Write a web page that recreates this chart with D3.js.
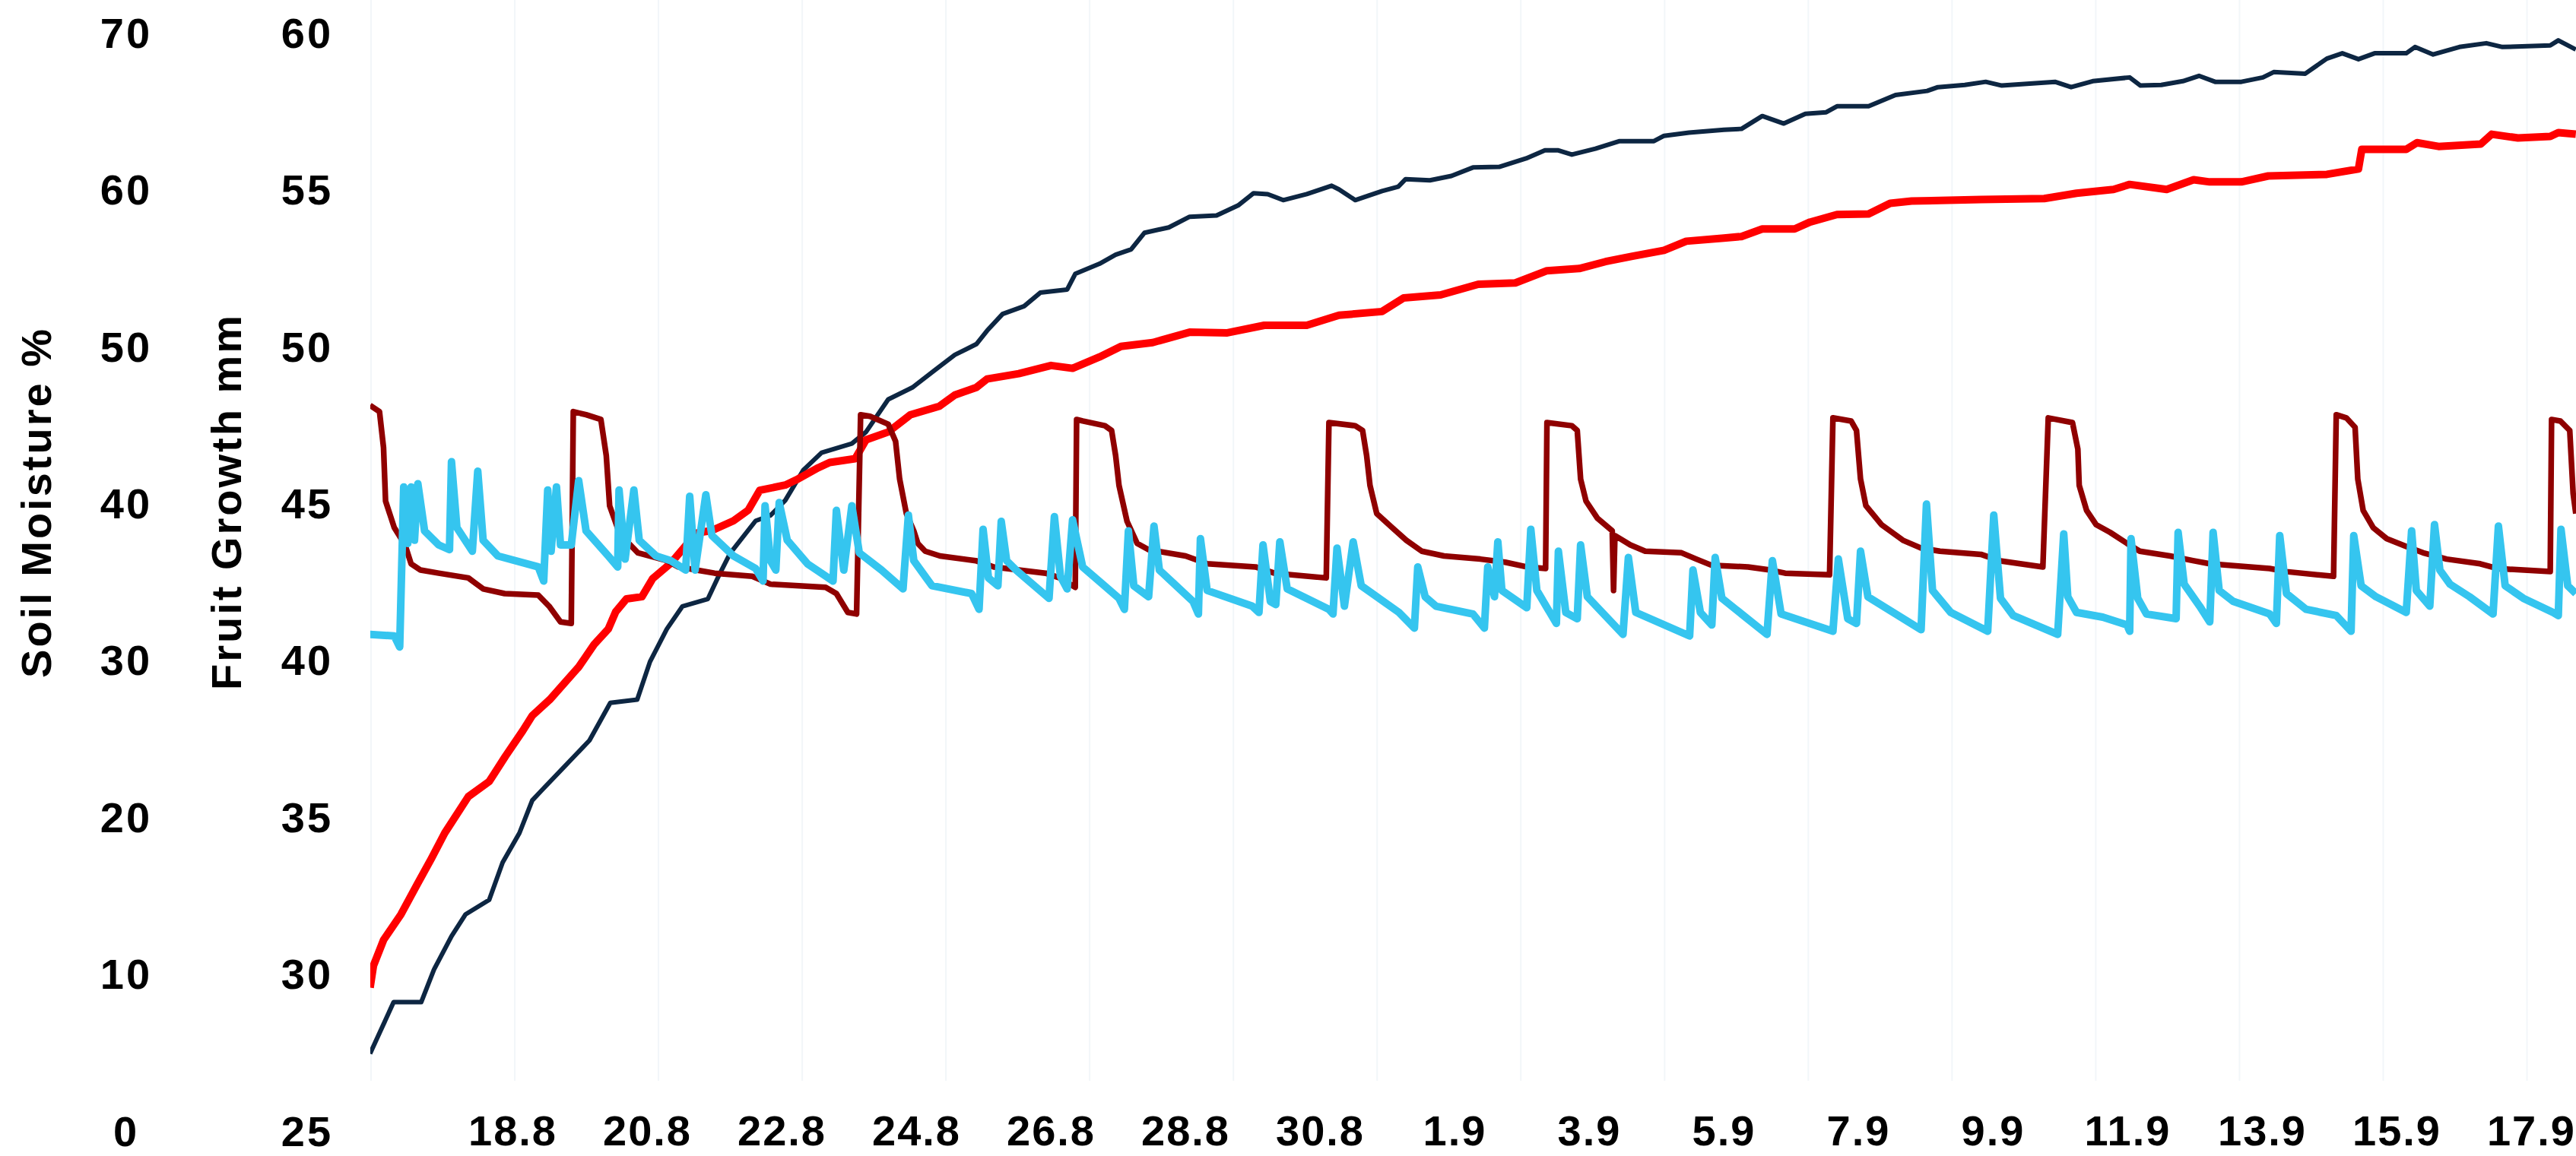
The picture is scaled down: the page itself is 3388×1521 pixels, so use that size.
<!DOCTYPE html>
<html>
<head>
<meta charset="utf-8">
<script src="https://cdn.jsdelivr.net/npm/d3@7"></script>
<style>
  html, body { margin: 0; padding: 0; background: #fff; }
  svg { display: block; }
  text {
    font-family: "Liberation Sans", Arial, sans-serif;
    font-weight: bold;
    font-size: 56px;
    letter-spacing: 3px;
    fill: #000;
  }
</style>
</head>
<body>
<svg id="chart"></svg>
<script>

// axis ticks
const soilTicks  = [0, 10, 20, 30, 40, 50, 60, 70]
const fruitTicks = [25, 30, 35, 40, 45, 50, 55, 60]
// days counted from 1 August (32 = 1 September)
const xTickDays  = [18, 20, 22, 24, 26, 28, 30, 32, 34, 36, 38, 40, 42, 44, 46, 48]
const dayRange   = [15.853, 48.633]
const gridStepDays = 2.136

// fruit growth (mm), [day, value]
const fruitNavy = [
  [15.85,27.44],[16.00,28.14],[16.20,29.08],[16.61,29.08],[16.80,30.12],[17.06,31.18],[17.27,31.88],
  [17.62,32.34],[17.82,33.53],[18.07,34.47],[18.26,35.51],[18.41,35.85],[19.11,37.42],[19.42,38.62],
  [19.82,38.72],[20.01,39.93],[20.26,40.97],[20.49,41.69],[20.87,41.93],[21.03,42.66],[21.20,43.38],
  [21.58,44.42],[21.80,44.59],[22.02,45.07],[22.29,46.04],[22.56,46.59],[23.01,46.88],[23.22,47.25],
  [23.55,48.29],[23.91,48.67],[24.23,49.20],[24.54,49.71],[24.86,50.05],[25.02,50.48],[25.25,51.01],
  [25.57,51.26],[25.81,51.69],[26.21,51.79],[26.33,52.29],[26.69,52.61],[26.93,52.90],[27.16,53.07],
  [27.36,53.60],[27.72,53.77],[28.03,54.11],[28.43,54.15],[28.75,54.47],[28.98,54.86],[29.19,54.83],
  [29.42,54.64],[29.77,54.83],[30.14,55.10],[30.25,54.98],[30.49,54.64],[30.89,54.93],[31.13,55.07],
  [31.24,55.31],[31.60,55.27],[31.92,55.41],[32.24,55.68],[32.63,55.70],[33.03,55.97],[33.31,56.23],
  [33.50,56.23],[33.71,56.09],[34.06,56.28],[34.42,56.52],[34.93,56.52],[35.08,56.69],[35.45,56.79],
  [35.97,56.88],[36.23,56.91],[36.54,57.32],[36.86,57.08],[37.18,57.39],[37.49,57.44],[37.65,57.63],
  [38.12,57.63],[38.52,57.99],[38.99,58.12],[39.15,58.24],[39.55,58.31],[39.86,58.41],[40.10,58.29],
  [40.89,58.41],[41.13,58.24],[41.45,58.43],[42.00,58.55],[42.16,58.29],[42.47,58.31],[42.79,58.43],
  [43.03,58.60],[43.27,58.41],[43.66,58.41],[43.98,58.55],[44.14,58.72],[44.61,58.67],[44.77,58.91],
  [44.93,59.15],[45.16,59.32],[45.40,59.13],[45.64,59.32],[46.11,59.32],[46.24,59.52],[46.51,59.28],
  [46.90,59.52],[47.30,59.64],[47.54,59.52],[48.25,59.57],[48.37,59.73],[48.63,59.44]
]

const fruitRed = [
  [15.85,29.54],[15.90,30.24],[16.05,31.06],[16.31,31.88],[16.55,32.83],[16.76,33.65],[16.96,34.47],
  [17.31,35.63],[17.62,36.11],[17.86,36.91],[18.12,37.73],[18.26,38.21],[18.52,38.72],[18.95,39.76],
  [19.18,40.48],[19.39,40.97],[19.50,41.52],[19.66,41.93],[19.89,42.00],[20.05,42.58],[20.32,43.07],
  [20.70,44.03],[20.93,44.11],[21.25,44.42],[21.47,44.76],[21.64,45.39],[22.02,45.56],[22.18,45.72],
  [22.51,46.11],[22.68,46.28],[23.06,46.40],[23.22,47.00],[23.55,47.25],[23.88,47.80],[24.31,48.07],
  [24.54,48.43],[24.86,48.67],[25.02,48.94],[25.49,49.11],[25.97,49.37],[26.29,49.28],[26.69,49.64],
  [27.01,49.98],[27.48,50.10],[28.03,50.43],[28.59,50.41],[29.14,50.65],[29.77,50.65],[30.25,50.97],
  [30.89,51.09],[31.21,51.52],[31.76,51.62],[32.32,51.96],[32.87,52.00],[33.34,52.39],[33.82,52.46],
  [34.21,52.68],[34.61,52.85],[35.08,53.04],[35.41,53.33],[35.97,53.43],[36.23,53.48],[36.54,53.72],
  [37.02,53.72],[37.25,53.94],[37.65,54.18],[38.12,54.20],[38.44,54.54],[38.76,54.61],[39.79,54.66],
  [40.73,54.69],[41.21,54.86],[41.76,54.98],[42.00,55.14],[42.55,54.98],[42.95,55.29],[43.19,55.22],
  [43.66,55.22],[44.06,55.41],[44.93,55.46],[45.40,55.63],[45.45,56.26],[46.11,56.26],[46.27,56.47],
  [46.59,56.35],[47.22,56.43],[47.38,56.74],[47.77,56.62],[48.25,56.67],[48.37,56.79],[48.63,56.74]
]

// soil moisture (%), [day, value]
const soilDarkRed = [
  [15.85,46.2],[15.99,45.8],[16.05,43.5],[16.08,40.1],[16.21,38.4],[16.37,37.3],[16.46,36.1],[16.60,35.7],
  [16.87,35.5],[17.31,35.2],[17.53,34.5],[17.85,34.2],[18.35,34.1],[18.51,33.4],[18.68,32.4],[18.84,32.3],
  [18.87,45.8],[19.06,45.6],[19.28,45.3],[19.36,43.0],[19.41,39.8],[19.56,38.0],[19.83,36.8],[20.26,36.3],
  [20.43,35.9],[20.70,35.7],[20.97,35.5],[21.53,35.3],[21.80,34.8],[22.62,34.6],[22.78,34.2],[22.95,33.0],
  [23.08,32.9],[23.14,45.6],[23.28,45.5],[23.55,45.0],[23.66,43.9],[23.72,41.5],[23.82,39.3],[23.93,38.2],
  [23.99,37.4],[24.10,36.9],[24.32,36.6],[24.85,36.3],[25.12,35.9],[25.89,35.5],[26.10,35.2],[26.33,34.6],
  [26.35,45.3],[26.44,45.2],[26.77,44.9],[26.87,44.6],[26.93,43.0],[26.98,41.1],[27.10,38.8],[27.25,37.4],
  [27.42,37.0],[27.97,36.6],[28.29,36.1],[29.01,35.9],[29.29,35.5],[30.06,35.2],[30.10,45.1],[30.49,44.9],
  [30.60,44.6],[30.66,43.0],[30.71,41.1],[30.81,39.3],[31.04,38.4],[31.25,37.6],[31.48,36.9],[31.81,36.6],
  [32.35,36.4],[32.72,36.2],[33.04,35.9],[33.32,35.8],[33.34,45.1],[33.71,44.9],[33.79,44.6],[33.84,41.5],
  [33.92,40.1],[34.09,39.0],[34.31,38.2],[34.33,34.4],[34.35,37.9],[34.58,37.3],[34.80,36.9],[35.34,36.8],
  [35.56,36.4],[35.79,36.0],[36.33,35.9],[36.66,35.7],[36.88,35.5],[37.54,35.4],[37.59,45.4],[37.86,45.2],
  [37.94,44.6],[38.00,41.5],[38.08,39.8],[38.31,38.6],[38.63,37.6],[38.90,37.1],[39.18,36.9],[39.79,36.7],
  [40.06,36.3],[40.71,35.9],[40.79,45.4],[41.15,45.1],[41.23,43.4],[41.25,41.1],[41.36,39.5],[41.50,38.6],
  [41.71,38.1],[41.96,37.4],[42.15,36.9],[42.60,36.6],[42.94,36.3],[43.19,36.1],[44.08,35.8],[44.33,35.6],
  [45.03,35.3],[45.07,45.6],[45.22,45.4],[45.35,44.8],[45.39,41.5],[45.47,39.5],[45.62,38.4],[45.82,37.7],
  [46.11,37.2],[46.36,36.8],[46.71,36.4],[47.21,36.1],[47.46,35.8],[48.25,35.6],[48.27,45.3],[48.40,45.2],
  [48.54,44.6],[48.59,40.6],[48.63,39.3]
]

const soilBlue = [
  [15.85,31.6],[16.21,31.5],[16.29,30.8],[16.35,41.0],[16.41,37.4],[16.46,41.0],[16.51,37.6],[16.56,41.2],
  [16.66,38.2],[16.87,37.3],[17.03,37.0],[17.06,42.6],[17.14,38.4],[17.37,36.9],[17.45,42.0],[17.53,37.6],
  [17.75,36.6],[18.35,35.9],[18.43,35.0],[18.49,40.8],[18.54,36.9],[18.62,41.0],[18.68,37.3],[18.84,37.3],
  [18.95,41.4],[19.06,38.2],[19.39,36.6],[19.53,35.9],[19.55,40.8],[19.64,36.4],[19.77,40.8],[19.85,37.6],
  [20.10,36.6],[20.32,36.3],[20.54,35.7],[20.60,40.4],[20.68,35.7],[20.84,40.5],[20.93,37.9],[21.25,36.6],
  [21.58,35.8],[21.69,35.0],[21.72,39.8],[21.80,36.3],[21.88,35.7],[21.93,40.0],[22.05,37.6],[22.35,36.1],
  [22.73,35.0],[22.78,39.5],[22.89,35.7],[23.01,39.8],[23.12,36.8],[23.45,35.7],[23.77,34.5],[23.85,39.2],
  [23.93,36.3],[24.20,34.7],[24.79,34.2],[24.90,33.2],[24.96,38.3],[25.04,35.2],[25.18,34.7],[25.23,38.8],
  [25.31,36.3],[25.45,35.7],[25.94,33.9],[26.02,39.1],[26.11,35.3],[26.21,34.5],[26.29,38.9],[26.44,35.9],
  [26.98,33.9],[27.06,33.2],[27.12,38.2],[27.20,34.7],[27.42,34.0],[27.50,38.5],[27.58,35.7],[28.08,33.7],
  [28.16,32.9],[28.19,37.7],[28.29,34.4],[28.96,33.4],[29.06,33.0],[29.12,37.3],[29.23,33.7],[29.31,33.5],
  [29.37,37.5],[29.48,34.5],[30.10,33.2],[30.16,32.9],[30.22,37.1],[30.33,33.4],[30.46,37.5],[30.58,34.7],
  [31.14,33.0],[31.37,32.0],[31.42,35.9],[31.53,34.0],[31.69,33.4],[32.24,32.9],[32.41,32.0],[32.46,35.9],
  [32.56,34.0],[32.61,37.5],[32.67,34.4],[33.04,33.3],[33.10,38.3],[33.19,34.4],[33.48,32.3],[33.51,36.9],
  [33.62,33.0],[33.79,32.6],[33.84,37.3],[33.94,34.0],[34.47,31.6],[34.55,36.5],[34.66,33.0],[35.46,31.5],
  [35.51,35.7],[35.62,33.0],[35.79,32.2],[35.84,36.5],[35.94,33.9],[36.61,31.6],[36.69,36.3],[36.82,32.9],
  [37.59,31.8],[37.67,36.4],[37.81,32.6],[37.94,32.3],[38.00,36.9],[38.11,34.0],[38.90,31.9],[38.98,39.9],
  [39.07,34.4],[39.34,33.0],[39.89,31.8],[39.98,39.2],[40.08,33.9],[40.27,32.8],[40.93,31.6],[41.02,38.0],
  [41.08,34.0],[41.21,33.0],[41.60,32.7],[41.96,32.2],[42.00,31.8],[42.02,37.7],[42.12,33.9],[42.25,32.9],
  [42.69,32.6],[42.72,38.1],[42.81,34.8],[43.04,33.4],[43.19,32.4],[43.24,38.1],[43.33,34.4],[43.54,33.7],
  [44.08,32.9],[44.18,32.3],[44.23,37.9],[44.33,34.2],[44.62,33.2],[45.07,32.8],[45.29,31.8],[45.33,37.9],
  [45.44,34.7],[45.66,34.0],[46.11,33.0],[46.19,38.2],[46.26,34.4],[46.46,33.4],[46.53,38.6],[46.61,35.7],
  [46.76,34.8],[47.05,34.0],[47.40,32.9],[47.48,38.5],[47.58,34.7],[47.85,33.9],[48.29,33.0],[48.37,32.8],
  [48.41,38.3],[48.51,34.7],[48.63,34.2]
]

const width  = 3388
const height = 1521
const plot = { left: 487, right: 3388, top: 42, bottom: 1487, gridBottom: 1422 }

const toDate = d => new Date(Date.UTC(2021, 6, 31) + d * 864e5)
const fmt = d3.utcFormat("%-d.%-m")

const x = d3.scaleUtc()
    .domain(dayRange.map(toDate))
    .range([plot.left, plot.right])

const ySoil = d3.scaleLinear()
    .domain([0, 70])
    .range([plot.bottom, plot.top])

const yFruit = d3.scaleLinear()
    .domain([25, 60])
    .range([plot.bottom, plot.top])

const svg = d3.select('#chart')
    .attr('width', width)
    .attr('height', height)

svg.append('rect')
    .attr('width', width)
    .attr('height', height)
    .attr('fill', '#fff')

// very faint vertical grid
const gridDays = d3.range(dayRange[0], dayRange[1], gridStepDays)

svg.append('g')
  .selectAll('line')
  .data(gridDays)
  .join('line')
    .attr('x1', d => x(toDate(d)) + 1)
    .attr('x2', d => x(toDate(d)) + 1)
    .attr('y1', 0)
    .attr('y2', plot.gridBottom)
    .attr('stroke', '#f2f6f9')
    .attr('stroke-width', 2)

// axes: labels only
const cleanAxis = g => {
  g.attr('font-size', null).attr('font-family', null)
  g.select('.domain').remove()
  g.selectAll('.tick line').remove()
}

svg.append('g')
    .attr('transform', 'translate(166,0)')
    .call(d3.axisLeft(ySoil).tickValues(soilTicks).tickSize(0).tickPadding(0))
    .call(cleanAxis)
    .call(g => g.selectAll('text').attr('x', 0).attr('dy', '0.36em').attr('text-anchor', 'middle'))

svg.append('g')
    .attr('transform', 'translate(404,0)')
    .call(d3.axisLeft(yFruit).tickValues(fruitTicks).tickSize(0).tickPadding(0))
    .call(cleanAxis)
    .call(g => g.selectAll('text').attr('x', 0).attr('dy', '0.36em').attr('text-anchor', 'middle'))

svg.append('g')
    .attr('transform', `translate(0,${plot.bottom})`)
    .call(d3.axisBottom(x).tickValues(xTickDays.map(toDate)).tickFormat(fmt).tickSize(0).tickPadding(0))
    .call(cleanAxis)
    .call(g => g.selectAll('text')
        .attr('y', 0)
        .attr('dy', '0.36em')
        .attr('dx', -3)
        .style('letter-spacing', '2px'))

// axis titles
svg.append('text')
    .attr('transform', 'translate(47,661) rotate(-90)')
    .attr('text-anchor', 'middle')
    .attr('dy', '0.36em')
    .text('Soil Moisture %')

svg.append('text')
    .attr('transform', 'translate(297,660) rotate(-90)')
    .attr('text-anchor', 'middle')
    .attr('dy', '0.36em')
    .text('Fruit Growth mm')

// series
svg.append('clipPath')
    .attr('id', 'plot-clip')
  .append('rect')
    .attr('x', plot.left)
    .attr('y', 0)
    .attr('width', plot.right - plot.left)
    .attr('height', height)

const lines = svg.append('g').attr('clip-path', 'url(#plot-clip)')

const fruitLine = d3.line()
    .x(d => x(toDate(d[0])))
    .y(d => yFruit(d[1]))

const soilLine = d3.line()
    .x(d => x(toDate(d[0])))
    .y(d => ySoil(d[1]))

const series = [
  { data: fruitNavy,   line: fruitLine, color: '#0d2642', w: 6 },
  { data: fruitRed,    line: fruitLine, color: '#ff0000', w: 10 },
  { data: soilDarkRed, line: soilLine,  color: '#8f0000', w: 7.5 },
  { data: soilBlue,    line: soilLine,  color: '#35c5ef', w: 10 }
]

lines.selectAll('path')
  .data(series)
  .join('path')
    .attr('d', s => s.line(s.data))
    .attr('fill', 'none')
    .attr('stroke', s => s.color)
    .attr('stroke-width', s => s.w)
    .attr('stroke-linejoin', 'round')
    .attr('stroke-linecap', 'butt')

</script>
</body>
</html>
